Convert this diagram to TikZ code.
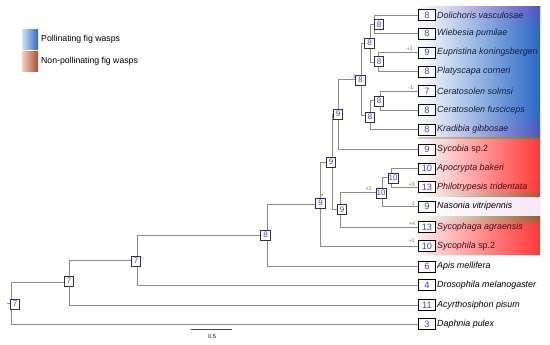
\documentclass[tikz,border=0pt]{standalone}
\usepackage{fontspec}
\setmainfont{Liberation Sans}
\usetikzlibrary{fadings}
\definecolor{branch}{HTML}{8C8C8C}
\definecolor{numblue}{HTML}{4A3FD8}
\definecolor{polblue}{HTML}{2C68C6}
\definecolor{polpurple}{HTML}{5552BE}
\definecolor{npred}{HTML}{FF3838}
\definecolor{npbrown}{HTML}{8A6232}
\definecolor{olivel}{HTML}{5F7A3A}
\definecolor{gainc}{HTML}{8B6A1E}
\definecolor{lossc}{HTML}{3F6FD0}
\definecolor{bluetext}{HTML}{0F1F45}
\definecolor{redtext}{HTML}{4A0A14}
\definecolor{nasbg}{HTML}{F8E6F6}
\definecolor{legred}{HTML}{A8502E}
\definecolor{legredl}{HTML}{F2CFC4}
\definecolor{legbluel}{HTML}{D8E2F4}
\tikzset{
  br/.style={draw=branch, line width=0.8pt},
  leafbox/.style={draw=black, line width=0.8pt, fill=white, minimum width=17pt, minimum height=11pt, inner sep=0pt, anchor=west, text=numblue, font=\fontsize{9.2}{9.2}\selectfont},
  ibox/.style={draw=black!80, line width=0.6pt, fill=white, minimum width=9.5pt, minimum height=10pt, inner sep=0.7pt, text=numblue, font=\fontsize{8}{8}\selectfont},
  taxon/.style={anchor=west, inner sep=0pt, font=\fontsize{8.9}{9}\selectfont\itshape},
  gain/.style={anchor=south east, inner sep=0pt, text=gainc, font=\fontsize{5.5}{5.5}\selectfont},
  loss/.style={anchor=south east, inner sep=0pt, text=lossc, font=\fontsize{5.5}{5.5}\selectfont},
  legtext/.style={anchor=west, inner sep=0pt, font=\fontsize{8.7}{9}\selectfont},
  legsq/.style={minimum width=16pt, minimum height=20pt, inner sep=0pt}
}
\begin{document}
\begin{tikzpicture}[x=1pt,y=-1pt]
\useasboundingbox (0,0) rectangle (550,345);
% ---- background colour bands ----
\shade[left color=white, right color=polblue] (418,7) rectangle (540,137.5);
\shade[left color=white, right color=polpurple, path fading=south] (418,7) rectangle (540,30);
\shade[left color=white, right color=polpurple, path fading=north] (418,112) rectangle (540,137.5);
\shade[left color=olivel!35!white, right color=olivel] (418,137.5) rectangle (540,140);
\shade[left color=white, right color=npred] (418,140) rectangle (540,197.5);
\shade[left color=white, right color=npbrown, path fading=north] (418,189) rectangle (540,197.5);
\shade[left color=white, right color=nasbg] (418,197.5) rectangle (540,217);
\shade[left color=red!8!white, right color=npred] (418,217) rectangle (540,254);
\shade[left color=white, right color=npbrown, path fading=south] (418,217) rectangle (540,226);
% ---- legend ----
\node[legsq, left color=legbluel, right color=polblue] (sq1) at (30,40) {};
\node[legtext] (lg1) at (41,39.5) {Pollinating fig wasps};
\node[legsq, left color=legredl, right color=legred] (sq2) at (30,62) {};
\node[legtext] (lg2) at (41,61) {Non-pollinating fig wasps};
% ---- leaves ----
\node[leafbox] (lDol) at (418,15) {8};
\node[leafbox] (lWie) at (418,33.5) {8};
\node[leafbox] (lEup) at (418,52.5) {9};
\node[leafbox] (lPla) at (418,71.5) {8};
\node[leafbox] (lCso) at (418,91) {7};
\node[leafbox] (lCfu) at (418,110) {8};
\node[leafbox] (lKra) at (418,129.5) {8};
\node[leafbox] (lSyb) at (418,149.5) {9};
\node[leafbox] (lApo) at (418,168.5) {10};
\node[leafbox] (lPhi) at (418,187) {13};
\node[leafbox] (lNas) at (418,206.5) {9};
\node[leafbox] (lSyg) at (418,227) {13};
\node[leafbox] (lSyl) at (418,246) {10};
\node[leafbox] (lApi) at (418,266.5) {6};
\node[leafbox] (lDro) at (418,285) {4};
\node[leafbox] (lAcy) at (418,305) {11};
\node[leafbox] (lDap) at (418,324) {3};
% ---- taxon names ----
\node[taxon, text=bluetext] (tDol) at (437,15) {Dolichoris vasculosae};
\node[taxon, text=bluetext] (tWie) at (437,33.5) {Wiebesia pumilae};
\node[taxon, text=bluetext] (tEup) at (437,52.5) {Eupristina koningsbergeri};
\node[taxon, text=bluetext] (tPla) at (437,71.5) {Platyscapa corneri};
\node[taxon, text=bluetext] (tCso) at (437,91) {Ceratosolen solmsi};
\node[taxon, text=bluetext] (tCfu) at (437,110) {Ceratosolen fusciceps};
\node[taxon, text=bluetext] (tKra) at (437,129.5) {Kradibia gibbosae};
\node[taxon, text=redtext] (tSyb) at (437,149.5) {Sycobia \upshape sp.2};
\node[taxon, text=redtext] (tApo) at (437,168.5) {Apocrypta bakeri};
\node[taxon, text=redtext] (tPhi) at (437,187) {Philotrypesis tridentata};
\node[taxon] (tNas) at (437,206.5) {Nasonia vitripennis};
\node[taxon, text=redtext] (tSyg) at (437,227) {Sycophaga agraensis};
\node[taxon, text=redtext] (tSyl) at (437,246) {Sycophila \upshape sp.2};
\node[taxon] (tApi) at (437,266.5) {Apis mellifera};
\node[taxon] (tDro) at (437,285) {Drosophila melanogaster};
\node[taxon] (tAcy) at (437,305) {Acyrthosiphon pisum};
\node[taxon] (tDap) at (437,324) {Daphnia pulex};
% ---- internal node points ----
\coordinate (pDW) at (374,24.25);
\coordinate (pEP) at (378,62);
\coordinate (pDWEP) at (370,43);
\coordinate (pCer) at (380,100.5);
\coordinate (pCerK) at (370,115);
\coordinate (pPoll) at (361,79);
\coordinate (pPS) at (338,114);
\coordinate (pAP) at (391,177.75);
\coordinate (pAPN) at (382,192);
\coordinate (pNP) at (340,209.5);
\coordinate (p9a) at (332,162);
\coordinate (p9s) at (320,204);
\coordinate (p8) at (267,235);
\coordinate (p7a) at (137,260);
\coordinate (p7b) at (69.5,282.5);
\coordinate (proot) at (11.7,303);
\coordinate (rstub) at (6.5,303);
% ---- branches ----
\draw[br] (pDW) |- (lDol.west);
\draw[br] (pDW) |- (lWie.west);
\draw[br] (pEP) |- (lEup.west);
\draw[br] (pEP) |- (lPla.west);
\draw[br] (pDWEP) |- (pDW);
\draw[br] (pDWEP) |- (pEP);
\draw[br] (pCer) |- (lCso.west);
\draw[br] (pCer) |- (lCfu.west);
\draw[br] (pCerK) |- (pCer);
\draw[br] (pCerK) |- (lKra.west);
\draw[br] (pPoll) |- (pDWEP);
\draw[br] (pPoll) |- (pCerK);
\draw[br] (pPS) |- (pPoll);
\draw[br] (pPS) |- (lSyb.west);
\draw[br] (pAP) |- (lApo.west);
\draw[br] (pAP) |- (lPhi.west);
\draw[br] (pAPN) |- (pAP);
\draw[br] (pAPN) |- (lNas.west);
\draw[br] (pNP) |- (pAPN);
\draw[br] (pNP) |- (lSyg.west);
\draw[br] (p9a) |- (pPS);
\draw[br] (p9a) |- (pNP);
\draw[br] (p9s) |- (p9a);
\draw[br] (p9s) |- (lSyl.west);
\draw[br] (p8) |- (p9s);
\draw[br] (p8) |- (lApi.west);
\draw[br] (p7a) |- (p8);
\draw[br] (p7a) |- (lDro.west);
\draw[br] (p7b) |- (p7a);
\draw[br] (p7b) |- (lAcy.west);
\draw[br] (proot) |- (p7b);
\draw[br] (proot) |- (lDap.west);
\draw[br] (rstub) -- (proot);
% ---- internal node boxes ----
\node[ibox] (bDW) at (379,24.25) {8};
\node[ibox] (bEP) at (379,61.5) {8};
\node[ibox] (bDWEP) at (369.5,43) {8};
\node[ibox] (bCer) at (379,101) {8};
\node[ibox] (bCerK) at (370,117) {8};
\node[ibox] (bPoll) at (360.5,80) {8};
\node[ibox] (bPS) at (338,114) {9};
\node[ibox] (bAP) at (393,178) {10};
\node[ibox] (bAPN) at (381,193) {10};
\node[ibox] (bNP) at (342,209.5) {9};
\node[ibox] (b9a) at (331,162) {9};
\node[ibox] (b9s) at (320.5,203) {9};
\node[ibox] (b8) at (265.5,235) {8};
\node[ibox] (b7a) at (136,261) {7};
\node[ibox] (b7b) at (69,281) {7};
\node[ibox] (broot) at (15,304) {7};
% ---- gain / loss labels ----
\node[gain] (gEup) at (413,51) {+1};
\node[loss] (xCso) at (413.5,90) {-1};
\node[loss] (xPoll) at (356,78.5) {-1};
\node[gain] (gAPN) at (372,191) {+1};
\node[gain] (gPhi) at (415,186.5) {+3};
\node[loss] (xNas) at (415,205.5) {-1};
\node[gain] (gSyg) at (415.5,226) {+4};
\node[gain] (gSyl) at (415,243) {+1};
\node[text=gainc, inner sep=0pt, font=\fontsize{6}{6}\selectfont] (star) at (322.3,196.5) {*};
% ---- scale bar ----
\coordinate (sbL) at (191,329);
\coordinate (sbR) at (232,329);
\draw[draw=black!70, line width=0.7pt] (sbL) -- (sbR);
\node[inner sep=0pt, font=\fontsize{5.5}{5.5}\selectfont] (sbT) at (212,337) {0.5};
\end{tikzpicture}
\end{document}
